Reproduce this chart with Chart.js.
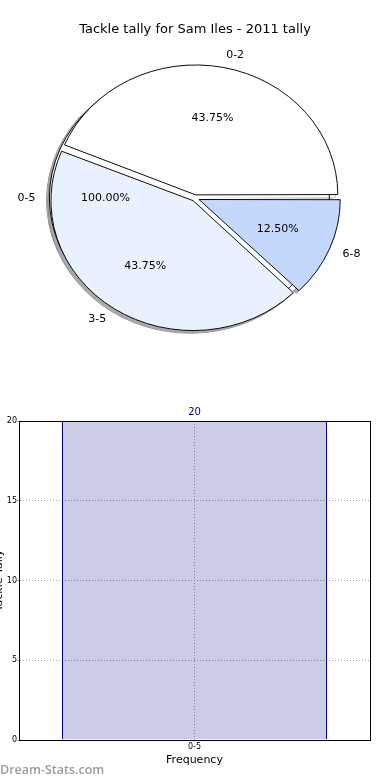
<!DOCTYPE html>
<html>
<head>
<meta charset="utf-8">
<script src="https://cdn.jsdelivr.net/npm/chart.js@4.4.1/dist/chart.umd.min.js"></script>
<style>
  html, body { margin: 0; padding: 0; background: #fff; }
  body { width: 390px; height: 780px; overflow: hidden; position: relative; }
  #pie { position: absolute; left: 0; top: 0; }
  #bar { position: absolute; left: -11px; top: 400px; }
  #mark {
    position: absolute; left: 0; top: 763px;
    font: 600 12.5px/13px "Open Sans", sans-serif; color: #9a9a9a;
  }
</style>
</head>
<body>
<canvas id="pie" width="390" height="400"></canvas>
<canvas id="bar" width="401" height="380"></canvas>
<div id="mark">Dream-Stats.com</div>
<script>
const pieTitle = "Tackle tally for Sam Iles - 2011 tally";

// front slices, clockwise from 3 o'clock
const frontLabels = ["6-8", "3-5", "0-2"];
const frontPercents = [12.5, 43.75, 43.75];

// the 0-5 slice is a full circle that sits behind the others
const backLabels = ["0-5"];
const backPercents = [100.0];

const barLabels = ["0-5"];
const barValues = [20];
const barTitleX = "Frequency";
const barTitleY = "Tackle Tally";

const FONT = "'DejaVu Sans', sans-serif";
const PIE_RADIUS = 140;
const SQUASH = 0.914; // source pie is drawn as an ellipse
const SHADOW_DX = -2.8;
const SHADOW_DY = 2.6;

// where a slice really sits once chart.js has applied its offset
function arcGeometry(arc) {
  const mid = (arc.startAngle + arc.endAngle) / 2;
  const off = (arc.options.offset || 0) / 4;
  const fix = 1 - Math.sin(Math.min(Math.PI, arc.circumference || 0));
  const shift = off * (1 + fix);
  const cos = Math.cos(mid);
  const sin = Math.sin(mid);
  return {
    cos,
    centre: { x: arc.x + cos * shift, y: arc.y + sin * shift },
    at(r) {
      return { x: arc.x + cos * (shift + r), y: arc.y + sin * (shift + r) * SQUASH };
    },
  };
}

const stackedPie = {
  id: "stackedPie",
  afterUpdate(chart) {
    // every dataset gets the full radius so the rings overlap instead of nesting
    for (const meta of chart.getSortedVisibleDatasetMetas()) {
      for (const arc of meta.data) {
        arc.innerRadius = 0;
        arc.outerRadius = PIE_RADIUS;
      }
    }
  },
  beforeDatasetsDraw(chart) {
    const arc = chart.getDatasetMeta(0).data[0];
    const ctx = chart.ctx;
    ctx.save();
    ctx.translate(arc.x, arc.y);
    ctx.scale(1, SQUASH);
    ctx.translate(-arc.x, -arc.y);
  },
  afterDatasetDraw(chart, args) {
    // full circle: outline only, no radial edge (chart.js would draw one)
    if (args.index !== 1) return;
    const ctx = chart.ctx;
    ctx.save();
    ctx.strokeStyle = "#000";
    ctx.lineWidth = 1;
    for (const arc of args.meta.data) {
      const c = arcGeometry(arc).centre;
      ctx.beginPath();
      ctx.arc(c.x, c.y, arc.outerRadius, 0, Math.PI * 2);
      ctx.stroke();
    }
    ctx.restore();
  },
  afterDatasetsDraw(chart) {
    const ctx = chart.ctx;
    // shadows go underneath everything already painted
    ctx.globalCompositeOperation = "destination-over";
    ctx.translate(SHADOW_DX, SHADOW_DY / SQUASH);
    for (const meta of chart.getSortedVisibleDatasetMetas()) {
      for (const arc of meta.data) {
        const saved = arc.options;
        arc.options = Object.assign({}, saved, {
          backgroundColor: "#a9a9a9",
          borderColor: "#7a7a7a",
          borderWidth: 1,
        });
        arc.draw(ctx);
        arc.options = saved;
      }
    }
    ctx.restore();
  },
  afterDraw(chart) {
    const ctx = chart.ctx;
    ctx.save();
    ctx.font = "11px " + FONT;
    ctx.fillStyle = "#000";
    ctx.textBaseline = "middle";
    chart.data.datasets.forEach((ds, i) => {
      chart.getDatasetMeta(i).data.forEach((arc, j) => {
        const g = arcGeometry(arc);
        const name = g.at(arc.outerRadius * 1.1);
        ctx.textAlign = g.cos > 0 ? "left" : "right";
        ctx.fillText(ds.sliceLabels[j], name.x, name.y);
        const pct = g.at(arc.outerRadius * 0.6);
        ctx.textAlign = "center";
        ctx.fillText(ds.data[j].toFixed(2) + "%", pct.x, pct.y);
      });
    });
    ctx.restore();
  },
};

new Chart(document.getElementById("pie"), {
  type: "pie",
  data: {
    datasets: [
      {
        data: frontPercents,
        sliceLabels: frontLabels,
        backgroundColor: ["#c4d8fe", "#eaf1fe", "#ffffff"],
        borderColor: "#000",
        borderWidth: 1,
        offset: [17.3, 13.9, 13.9],
      },
      {
        data: backPercents,
        sliceLabels: backLabels,
        backgroundColor: ["#ffffff"],
        borderColor: "#000",
        borderWidth: 0,
        offset: [11.2],
      },
    ],
  },
  options: {
    responsive: false,
    animation: false,
    events: [],
    rotation: 90,
    layout: { padding: { bottom: 51.6 } },
    plugins: {
      legend: { display: false },
      tooltip: { enabled: false },
      title: {
        display: true,
        text: pieTitle,
        color: "#000",
        font: { family: FONT, size: 13, weight: "normal" },
        padding: { top: 22, bottom: 10 },
      },
    },
  },
  plugins: [stackedPie],
});

const barFrame = {
  id: "barFrame",
  afterDatasetsDraw(chart) {
    const ctx = chart.ctx;
    const meta = chart.getDatasetMeta(0);
    ctx.save();
    ctx.font = "10px " + FONT;
    ctx.fillStyle = "#000080";
    ctx.textAlign = "center";
    ctx.textBaseline = "bottom";
    meta.data.forEach((bar, i) => {
      ctx.fillText(String(chart.data.datasets[0].data[i]), bar.x, bar.y - 4);
    });
    ctx.restore();
  },
  afterDraw(chart) {
    const { left, top, right, bottom } = chart.chartArea;
    const ctx = chart.ctx;
    ctx.save();
    ctx.strokeStyle = "#000";
    ctx.lineWidth = 1;
    ctx.strokeRect(Math.round(left) + 0.5, Math.round(top) + 0.5,
      Math.round(right) - Math.round(left), Math.round(bottom) - Math.round(top));
    ctx.restore();
  },
};

const gridStyle = { color: "#a0a0a0", tickLength: 2 };
const borderStyle = { color: "#000", dash: [1, 2] };
const tickFont = { family: FONT, size: 8 };

new Chart(document.getElementById("bar"), {
  type: "bar",
  data: {
    labels: barLabels,
    datasets: [
      {
        data: barValues,
        backgroundColor: "rgba(0, 0, 128, 0.2)",
        borderColor: "#000080",
        borderWidth: { left: 1, right: 1, top: 0, bottom: 0 },
        borderSkipped: false,
        barPercentage: 0.755,
        categoryPercentage: 1,
      },
    ],
  },
  options: {
    responsive: false,
    animation: false,
    events: [],
    layout: { padding: { top: 21, right: 20, bottom: 13.4 } },
    plugins: {
      legend: { display: false },
      tooltip: { enabled: false },
    },
    scales: {
      x: {
        grid: { ...gridStyle, offset: false },
        border: borderStyle,
        ticks: { padding: 0, color: "#000", font: tickFont },
        title: {
          display: true,
          text: barTitleX,
          color: "#000",
          padding: 0,
          font: { family: FONT, size: 11 },
        },
        afterFit(scale) {
          scale.height = 26.6;
        },
      },
      y: {
        min: 0,
        max: 20,
        grid: gridStyle,
        border: borderStyle,
        ticks: { stepSize: 5, padding: 0, color: "#000", font: tickFont },
        title: {
          display: true,
          text: barTitleY,
          color: "#000",
          font: { family: FONT, size: 11 },
        },
        afterFit(scale) {
          scale.width = 30;
        },
      },
    },
  },
  plugins: [barFrame],
});
</script>
</body>
</html>
